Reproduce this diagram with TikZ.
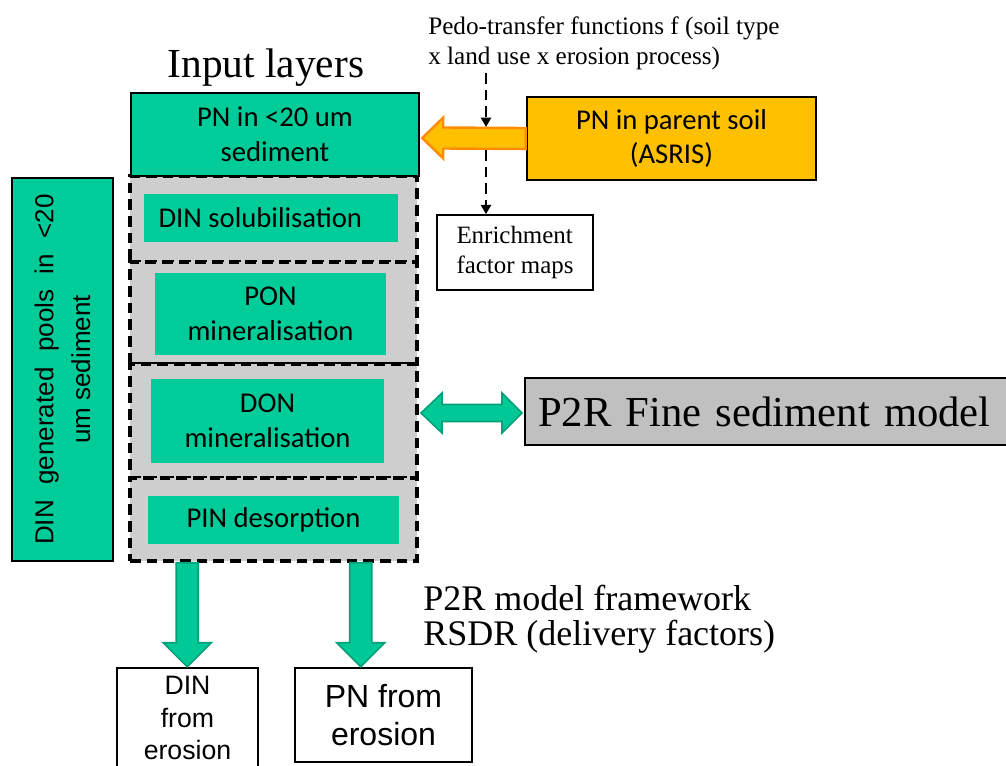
\documentclass[tikz,border=0pt]{standalone}
\usepackage{fontspec}
\setmainfont{Liberation Serif}
\newfontfamily\calib{Carlito}
\newfontfamily\arialf{Liberation Sans}
\usetikzlibrary{calc,arrows.meta}
\definecolor{tealA}{RGB}{0,204,153}
\definecolor{grayA}{RGB}{206,206,206}
\definecolor{grayB}{RGB}{192,192,192}
\definecolor{orangeA}{RGB}{255,192,0}
\definecolor{orangeB}{RGB}{255,140,0}
\definecolor{greenA}{RGB}{0,200,150}
\definecolor{greenB}{RGB}{0,160,120}
\newcommand\widespC{\spaceskip=0.6em\relax}
\begin{document}
\begin{tikzpicture}[x=0.75pt,y=-0.75pt,
  tealbox/.style={draw=black, line width=1.9pt, fill=tealA, inner sep=0pt, align=center,
    font=\calib\fontsize{21.5}{26}\selectfont},
  grayreg/.style={draw=black, line width=2.6pt, dash pattern=on 8pt off 4.5pt, fill=grayA, inner sep=0pt},
  innerbox/.style={fill=tealA, inner sep=0pt, align=center, font=\calib\fontsize{21.5}{26}\selectfont},
  dasharrow/.style={draw=black, line width=2.1pt, dash pattern=on 8pt off 4.5pt, -{Triangle[length=7pt,width=7.5pt]}},
  oarrow/.style={fill=orangeA, draw=orangeB, line width=1.8pt, line join=miter},
  garrow/.style={fill=greenA, draw=greenB, line width=1.2pt, line join=miter},
  outbox/.style={draw=black, line width=1.9pt, fill=white, inner sep=0pt, align=center}]
\clip (0,0) rectangle (1006,765);
\fill[white] (0,0) rectangle (1006,765);

% title
\node[anchor=base, inner sep=0pt, font=\fontsize{31}{36}\selectfont] (title) at (266,77) {Input layers};

% left vertical box
\node[tealbox, rotate=90, minimum width=287.25pt, minimum height=75.75pt,
  font=\arialf\fontsize{19.5}{27.5}\selectfont] (pools) at (62.5,369.5) {{\widespC DIN generated pools in <20}\\um sediment};

% gray dashed regions
\node[grayreg, minimum width=215.25pt, minimum height=64.5pt] (g1) at (273.5,219) {};
\node[grayreg, minimum width=215.25pt, minimum height=76.5pt] (g2) at (273.5,313) {};
\node[grayreg, minimum width=215.25pt, minimum height=85.5pt] (g3) at (273.5,421) {};
\node[grayreg, minimum width=215.25pt, minimum height=62.25pt] (g4) at (273.5,519.5) {};

% inner boxes
\node[innerbox, minimum width=190.5pt, minimum height=36pt] (dinsol) at (271,218) {DIN solubilisation\hspace*{16pt}};
\node[innerbox, minimum width=173.25pt, minimum height=61.5pt] (pon) at (270.5,314) {PON\\mineralisation};
\node[innerbox, minimum width=174.75pt, minimum height=63pt] (don) at (267.5,421) {DON\\mineralisation};
\node[innerbox, minimum width=188.25pt, minimum height=36pt] (pin) at (273.5,520) {PIN desorption};

% PN in sediment box
\node[tealbox, minimum width=216pt, minimum height=62.25pt] (pnsed) at (275,134.5) {PN in <20 um\\sediment};

% parent soil box
\node[tealbox, fill=orangeA, minimum width=216.75pt, minimum height=62.25pt] (parent) at (671.5,138.5) {PN in parent soil\\(ASRIS)};

% orange block arrow parent -> pnsed
\coordinate (otip) at ($(pnsed.east)+(2,3.5)$);
\draw[oarrow] (otip) -- ($(otip)+(21,-20.5)$) -- ($(otip)+(21,-10.5)$) -- ($(parent.west)+(0,-10.5)$)
  -- ($(parent.west)+(0,10.5)$) -- ($(otip)+(21,10.5)$) -- ($(otip)+(21,20.5)$) -- cycle;

% pedo-transfer text
\node[anchor=west, inner sep=0pt, align=left, font=\fontsize{18.9}{22.5}\selectfont] (pedo) at (428,43)
  {Pedo-transfer functions f (soil type\\x land use x erosion process)};

% enrichment box
\node[outbox, line width=1.2pt, minimum width=117pt, minimum height=56.25pt, align=left,
  font=\fontsize{18.7}{22.5}\selectfont] (enrich) at (515,252.5) {Enrichment\\factor maps};

% dashed arrows
\coordinate (pedoout) at (486,73);
\coordinate (oatop) at (486,127);
\coordinate (oabot) at (486,150);
\draw[dasharrow] (pedoout) -- (oatop);
\draw[dasharrow] (oabot) -- (oabot |- enrich.north);

% P2R fine sediment model box
\node[draw=black, line width=1.9pt, fill=grayB, minimum width=367.5pt, minimum height=50.25pt,
  inner xsep=9.75pt, inner ysep=0pt, text width=348pt, align=left,
  font=\fontsize{32}{36}\selectfont] (p2r) at (770,411.5) {P2R Fine sediment model};

% green double arrow
\coordinate (dl) at (421,413);
\coordinate (dr) at (522,413);
\draw[garrow] (dl) -- ($(dl)+(21,-20)$) -- ($(dl)+(21,-8.5)$) -- ($(dr)+(-20,-8.5)$) -- ($(dr)+(-20,-20)$)
  -- (dr) -- ($(dr)+(-20,20)$) -- ($(dr)+(-20,8.5)$) -- ($(dl)+(21,8.5)$) -- ($(dl)+(21,20)$) -- cycle;

% output boxes
\node[outbox, minimum width=105.75pt, minimum height=75pt, font=\arialf\fontsize{20}{24.5}\selectfont] (dinero) at (187.5,718) {DIN\\from\\erosion};
\node[outbox, minimum width=132.75pt, minimum height=70.5pt, font=\arialf\fontsize{24}{28.5}\selectfont] (pnero) at (383.5,715) {PN from\\erosion};

% green down arrows
\coordinate (a1s) at ($(g4.south west)+(59,0)$);
\coordinate (a1e) at (a1s |- dinero.north);
\draw[garrow] ($(a1s)+(-11,0)$) -- ($(a1e)+(-11,-24)$) -- ($(a1e)+(-24,-24)$) -- (a1e) -- ($(a1e)+(24,-24)$)
  -- ($(a1e)+(11,-24)$) -- ($(a1s)+(11,0)$) -- cycle;
\coordinate (a2s) at ($(g4.south west)+(232.5,0)$);
\coordinate (a2e) at (a2s |- pnero.north);
\draw[garrow] ($(a2s)+(-11,0)$) -- ($(a2e)+(-11,-24)$) -- ($(a2e)+(-24,-24)$) -- (a2e) -- ($(a2e)+(24,-24)$)
  -- ($(a2e)+(11,-24)$) -- ($(a2s)+(11,0)$) -- cycle;

% framework text
\node[anchor=west, inner sep=0pt, align=left, font=\fontsize{27}{26.25}\selectfont] (frame) at (423,619)
  {P2R model framework\\RSDR (delivery factors)};
\end{tikzpicture}
\end{document}
